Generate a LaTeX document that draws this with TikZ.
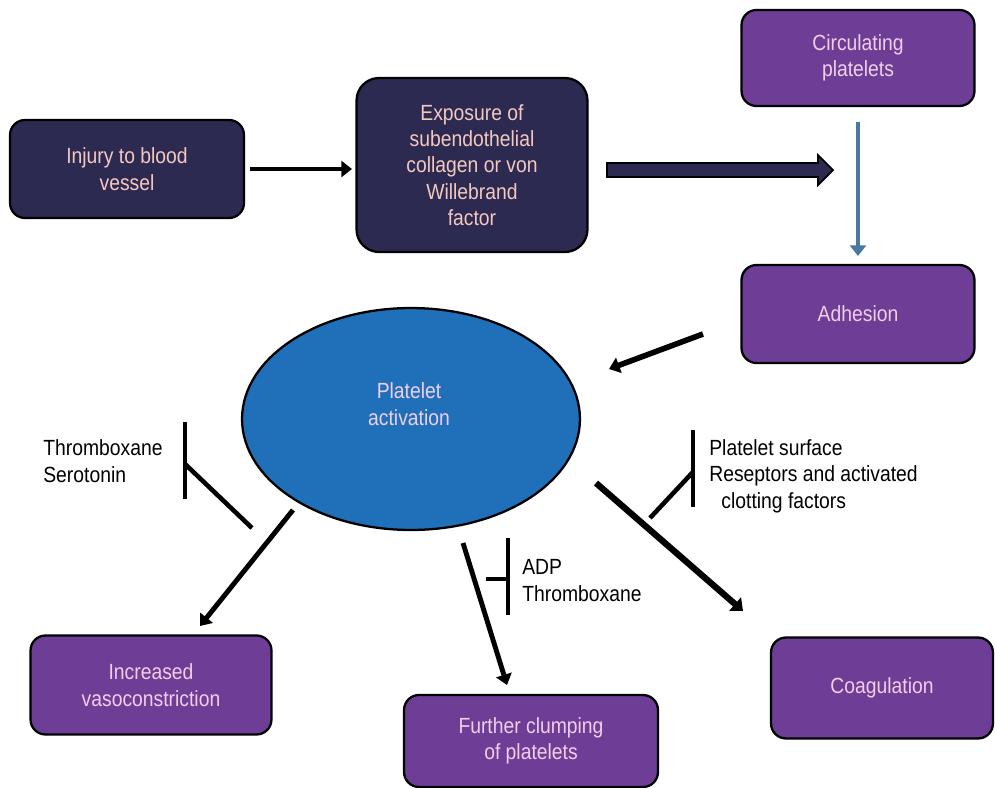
\documentclass[tikz,border=0pt]{standalone}
\usepackage{fontspec}
\setmainfont{Liberation Sans}[FakeStretch=0.88]
\usetikzlibrary{shapes.geometric,arrows.meta}
\definecolor{navy}{HTML}{2D2A52}
\definecolor{purp}{HTML}{6E3D96}
\definecolor{blu}{HTML}{1F70B8}
\definecolor{pinktxt}{HTML}{F4C8BF}
\definecolor{lavtxt}{HTML}{F0CFEA}
\definecolor{arrblue}{HTML}{4A78A0}
\begin{document}
\begin{tikzpicture}[x=0.02cm,y=-0.02cm,
  txt/.style={font=\fontsize{12.5}{15}\selectfont},
  box/.style={txt, draw=black, line width=1.3pt, rounded corners=0.3cm, align=center, inner sep=2pt},
  navybox/.style={box, fill=navy, text=pinktxt},
  purpbox/.style={box, fill=purp, text=lavtxt},
  arr/.style={line width=2.8pt, -{Triangle[length=6pt,width=9pt]}},
  bar/.style={line width=2.6pt},
  lbl/.style={txt, align=left, text=black, inner sep=0pt, anchor=base west}
]
\useasboundingbox (0,0) rectangle (995,788);
\fill[white] (0,0) rectangle (995,788);

% boxes
\node[navybox, minimum width=4.68cm, minimum height=1.96cm] (inj) at (127,169) {Injury to blood\\vessel};
\node[navybox, rounded corners=0.45cm, minimum width=4.62cm, minimum height=3.48cm] (exp) at (472,165) {Exposure of\\subendothelial\\collagen or von\\Willebrand\\factor};
\node[purpbox, minimum width=4.66cm, minimum height=1.92cm] (circ) at (858,58) {Circulating\\platelets};
\node[purpbox, minimum width=4.66cm, minimum height=1.96cm] (adh) at (858,314) {Adhesion};
\node[purpbox, minimum width=4.82cm, minimum height=1.98cm] (vaso) at (151,685) {Increased\\vasoconstriction};
\node[purpbox, minimum width=5.08cm, minimum height=1.84cm] (clump) at (531,741) {Further clumping\\of platelets};
\node[purpbox, minimum width=4.44cm, minimum height=2.02cm] (coag) at (882,688) {Coagulation};

% ellipse
\node[ellipse, draw=black, line width=1.3pt, fill=blu, minimum width=6.76cm, minimum height=4.44cm, inner sep=0pt] (pa) at (411,419) {};
\node[txt, text=lavtxt, align=center] (patxt) at (409,404) {Platelet\\activation};

% coordinates for connector ends
\coordinate (a1s) at (250,169); \coordinate (a1e) at (352,169);
\coordinate (cbs) at (858,122); \coordinate (cbe) at (858,256);
\coordinate (ads) at (703,334); \coordinate (ade) at (609,369);
\coordinate (vs) at (293,510);  \coordinate (ve) at (200,626);
\coordinate (fs) at (463,543);  \coordinate (fe) at (507,685);
\coordinate (cs) at (596,483);  \coordinate (ce) at (743,611);

\draw[arr] (a1s) -- (a1e);
\draw[arr, draw=arrblue, -{Triangle[length=6pt,width=9pt]}] (cbs) -- (cbe);
\draw[arr, line width=3.2pt] (ads) -- (ade);
\draw[arr] (vs) -- (ve);
\draw[arr] (fs) -- (fe);
\draw[arr, line width=3.6pt, -{Triangle[length=6pt,width=10pt]}] (cs) -- (ce);

% block arrow from exposure
\draw[fill=navy, draw=black, line width=1pt, line join=miter]
  (607,163) -- (818,163) -- (818,155) -- (833,170) -- (818,185) -- (818,177) -- (607,177) -- cycle;

% inhibitor marks
\coordinate (i1a) at (185,422); \coordinate (i1b) at (185,499);
\coordinate (i1c) at (185,464); \coordinate (i1d) at (252,528);
\draw[bar] (i1a) -- (i1b);
\draw[bar] (i1c) -- (i1d);

\coordinate (i2a) at (508,538); \coordinate (i2b) at (508,615);
\coordinate (i2c) at (486,579); \coordinate (i2d) at (508,579);
\draw[bar] (i2a) -- (i2b);
\draw[bar] (i2c) -- (i2d);

\coordinate (i3a) at (693,430); \coordinate (i3b) at (693,507);
\coordinate (i3c) at (650,518); \coordinate (i3d) at (693,472);
\draw[bar] (i3a) -- (i3b);
\draw[bar] (i3c) -- (i3d);

% labels (base anchor = last line's baseline)
\node[lbl] (l1) at (43,482) {Thromboxane\\Serotonin};
\node[lbl] (l2) at (522,601) {ADP\\Thromboxane};
\node[lbl] (l3) at (709,508) {Platelet surface\\Reseptors and activated\\\hspace*{0.55em}clotting factors};
\end{tikzpicture}
\end{document}
